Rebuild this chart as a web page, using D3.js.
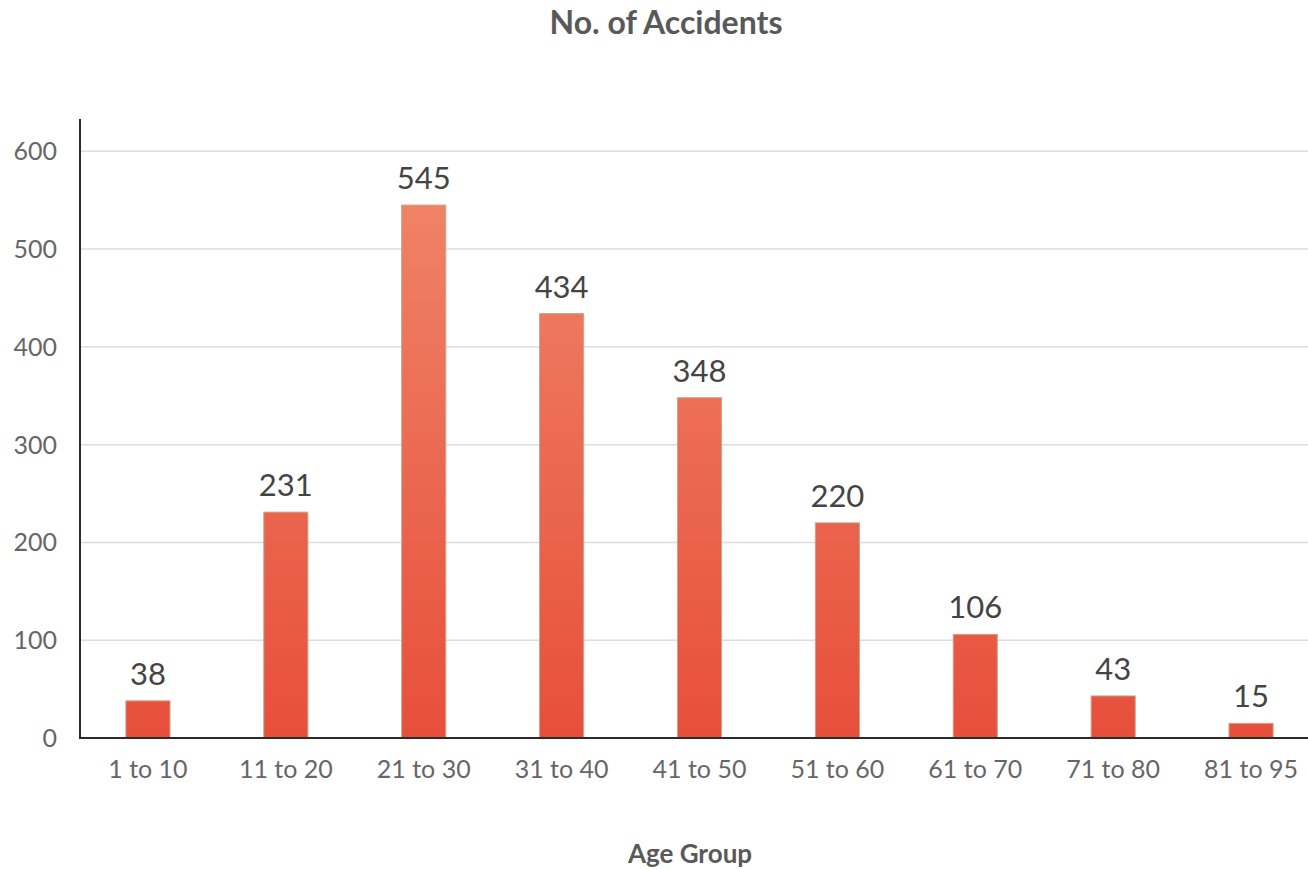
<!DOCTYPE html>
<html>
<head>
<meta charset="utf-8">
<script src="https://cdn.jsdelivr.net/npm/d3@7"></script>
<style>
  body { margin: 0; background: #fff; }
  text { font-family: Lato, "Open Sans", sans-serif; }
</style>
</head>
<body>
<div id="chart"></div>
<script>
var ageGroups = ["1 to 10", "11 to 20", "21 to 30", "31 to 40", "41 to 50", "51 to 60", "61 to 70", "71 to 80", "81 to 95"];
var accidents = [38, 231, 545, 434, 348, 220, 106, 43, 15];
var yTicks = [0, 100, 200, 300, 400, 500, 600];

var width = 1308, height = 870;

var svg = d3.select("#chart")
    .append("svg")
    .attr("width", width)
    .attr("height", height);

var x = d3.scaleBand()
    .domain(ageGroups)
    .range([79, 1320])
    .paddingInner(0.68)
    .paddingOuter(0.34);

var y = d3.scaleLinear()
    .domain([0, 633])
    .range([738, 119]);

// gradient over the whole plot height
var grad = svg.append("defs").append("linearGradient")
    .attr("id", "barGrad")
    .attr("gradientUnits", "userSpaceOnUse")
    .attr("x1", 0).attr("x2", 0)
    .attr("y1", y(600)).attr("y2", y(0));
grad.append("stop").attr("offset", "0%").attr("stop-color", "#f0876a");
grad.append("stop").attr("offset", "100%").attr("stop-color", "#e74f3b");

// gridlines
svg.append("g")
    .selectAll("line")
    .data(yTicks.filter(d => d > 0))
    .enter().append("line")
    .attr("x1", 80).attr("x2", width)
    .attr("y1", d => y(d)).attr("y2", d => y(d))
    .attr("stroke", "#dcdcdc")
    .attr("stroke-width", 1.5);

// y tick labels
svg.append("g")
    .selectAll("text")
    .data(yTicks)
    .enter().append("text")
    .attr("x", 57)
    .attr("y", d => y(d) + 9)
    .attr("text-anchor", "end")
    .attr("font-size", 25)
    .attr("fill", "#666")
    .text(d => d);

// bars
svg.append("g")
    .selectAll("rect")
    .data(accidents)
    .enter().append("rect")
    .attr("x", (d, i) => x(ageGroups[i]))
    .attr("y", d => y(d))
    .attr("width", x.bandwidth())
    .attr("height", d => y(0) - y(d))
    .attr("fill", "url(#barGrad)")
    .attr("stroke", "#c9a58a")
    .attr("stroke-width", 1);

// value labels
svg.append("g")
    .selectAll("text")
    .data(accidents)
    .enter().append("text")
    .attr("x", (d, i) => x(ageGroups[i]) + x.bandwidth() / 2)
    .attr("y", d => y(d) - 16)
    .attr("text-anchor", "middle")
    .attr("font-size", 31)
    .attr("fill", "#444")
    .text(d => d);

// axes
svg.append("line")
    .attr("x1", 80).attr("x2", 80)
    .attr("y1", 119).attr("y2", 739)
    .attr("stroke", "#2b2b2b").attr("stroke-width", 2);
svg.append("line")
    .attr("x1", 79).attr("x2", width)
    .attr("y1", 738).attr("y2", 738)
    .attr("stroke", "#2b2b2b").attr("stroke-width", 2);

// x tick labels
svg.append("g")
    .selectAll("text")
    .data(ageGroups)
    .enter().append("text")
    .attr("x", d => x(d) + x.bandwidth() / 2)
    .attr("y", 778)
    .attr("text-anchor", "middle")
    .attr("font-size", 25)
    .attr("fill", "#666")
    .text(d => d);

// titles
svg.append("text")
    .attr("x", 666)
    .attr("y", 34)
    .attr("text-anchor", "middle")
    .attr("font-size", 32)
    .attr("font-weight", "bold")
    .attr("fill", "#595959")
    .text("No. of Accidents");

svg.append("text")
    .attr("x", 690)
    .attr("y", 863)
    .attr("text-anchor", "middle")
    .attr("font-size", 26)
    .attr("font-weight", "bold")
    .attr("fill", "#595959")
    .text("Age Group");
</script>
</body>
</html>
